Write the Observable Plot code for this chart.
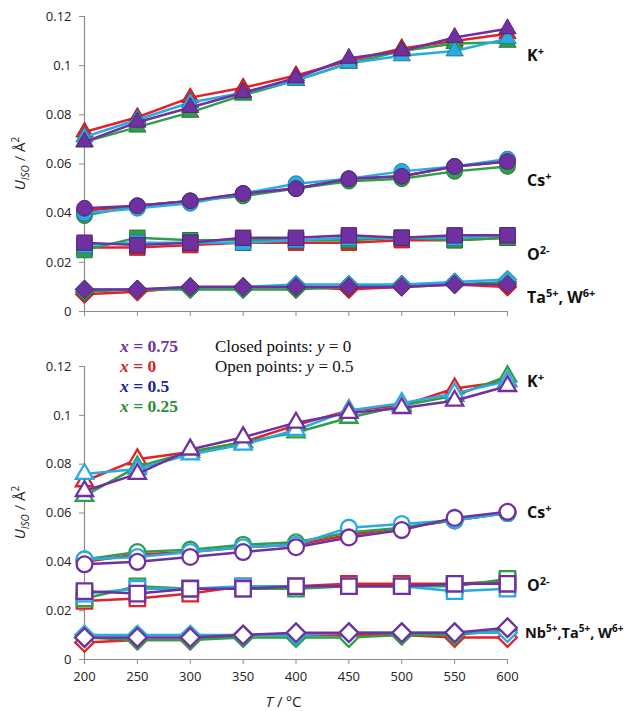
<!DOCTYPE html>
<html><head><meta charset="utf-8">
<script src="https://cdn.jsdelivr.net/npm/d3@7"></script>
<script src="https://cdn.jsdelivr.net/npm/@observablehq/plot@0.6"></script>
<style>
body{margin:0;background:#fff;}
#chart{width:636px;}
#chart svg{display:block;}
</style></head><body><div id="chart"></div>
<script>
// ---------- data ----------
const temps = [200,250,300,350,400,450,500,550,600];
const yTicks = [0,0.02,0.04,0.06,0.08,0.1,0.12];
const yTickLabels = ["0","0.02","0.04","0.06","0.08","0.1","0.12"];
// series order: x = 0, x = 0.25, x = 0.5, x = 0.75
const seriesX = ["0","0.25","0.5","0.75"];
const seriesColors = ["#E2222B","#2E9E48","#29ABE2","#7030A0"];
const legendX = ["0.75","0","0.5","0.25"];
const legendColors = ["#7030A0","#D7232B","#1C1CA6","#2E8B34"];
const ionKeys = ["K","Cs","O","M"];
const ionSymbols = ["triangle","circle","square","diamond2"];

// closed points (y = 0)
const closedK = [
  [0.073,0.079,0.087,0.091,0.096,0.102,0.107,0.110,0.113],
  [0.069,0.075,0.081,0.088,0.094,0.101,0.106,0.109,0.1095],
  [0.071,0.078,0.085,0.089,0.094,0.101,0.104,0.106,0.111],
  [0.069,0.077,0.083,0.089,0.095,0.103,0.106,0.1115,0.115]
];
const closedCs = [
  [0.041,0.043,0.045,0.048,0.050,0.054,0.055,0.059,0.061],
  [0.039,0.043,0.045,0.047,0.050,0.053,0.054,0.057,0.059],
  [0.040,0.042,0.044,0.048,0.052,0.054,0.057,0.059,0.062],
  [0.042,0.043,0.045,0.048,0.050,0.054,0.055,0.059,0.061]
];
const closedO = [
  [0.026,0.026,0.027,0.028,0.028,0.028,0.029,0.029,0.030],
  [0.025,0.030,0.029,0.029,0.029,0.029,0.030,0.029,0.030],
  [0.027,0.028,0.028,0.028,0.029,0.030,0.030,0.030,0.031],
  [0.028,0.027,0.028,0.030,0.030,0.031,0.030,0.031,0.031]
];
const closedM = [
  [0.007,0.008,0.010,0.010,0.010,0.009,0.010,0.011,0.010],
  [0.008,0.009,0.009,0.009,0.009,0.010,0.011,0.011,0.012],
  [0.009,0.009,0.010,0.010,0.011,0.011,0.011,0.012,0.013],
  [0.009,0.009,0.010,0.010,0.010,0.010,0.010,0.011,0.011]
];
// open points (y = 0.5)
const openK = [
  [0.073,0.082,0.085,0.089,0.096,0.102,0.104,0.111,0.114],
  [0.067,0.079,0.085,0.089,0.093,0.099,0.104,0.108,0.116],
  [0.076,0.078,0.084,0.088,0.094,0.102,0.105,0.109,0.114],
  [0.069,0.076,0.086,0.091,0.097,0.101,0.103,0.106,0.112]
];
const openCs = [
  [0.040,0.043,0.044,0.046,0.047,0.051,0.054,0.057,0.060],
  [0.041,0.044,0.045,0.047,0.048,0.052,0.054,0.057,0.060],
  [0.041,0.042,0.044,0.046,0.047,0.054,0.0555,0.057,0.060],
  [0.039,0.040,0.042,0.044,0.046,0.050,0.053,0.058,0.0605]
];
const openO = [
  [0.024,0.025,0.027,0.030,0.030,0.031,0.031,0.031,0.032],
  [0.025,0.030,0.029,0.029,0.029,0.030,0.030,0.030,0.033],
  [0.027,0.029,0.029,0.030,0.030,0.030,0.030,0.028,0.029],
  [0.028,0.027,0.029,0.029,0.030,0.030,0.030,0.031,0.031]
];
const openM = [
  [0.007,0.008,0.008,0.010,0.010,0.010,0.010,0.009,0.009],
  [0.009,0.008,0.008,0.009,0.009,0.009,0.010,0.010,0.012],
  [0.010,0.010,0.010,0.010,0.010,0.011,0.011,0.011,0.011],
  [0.009,0.009,0.009,0.010,0.011,0.011,0.011,0.011,0.013]
];

// ion labels: parts [text, isSuperscript]
const closedLabels = [
  [["K",0],["+",1]],
  [["Cs",0],["+",1]],
  [["O",0],["2-",1]],
  [["Ta",0],["5+",1],[", W",0],["6+",1]]
];
const closedLabelY = [0.104,0.053,0.0228,0.0053];
const openLabels = [
  [["K",0],["+",1]],
  [["Cs",0],["+",1]],
  [["O",0],["2-",1]],
  [["Nb",0],["5+",1],[",Ta",0],["5+",1],[", W",0],["6+",1]]
];
const openLabelY = [0.1135,0.060,0.0303,0.0107];

// ---------- drawing ----------
const ionR = {triangle:6.4, circle:7.9, square:8.7, diamond2:8.4};
const axisColor = "#8c8c8c";

function panel(ionData, open, showXLabels, height, marginTop, marginBottom) {
  const marks = [
    Plot.ruleX([200], {stroke: axisColor, strokeWidth: 1.2}),
    Plot.ruleY([0], {stroke: axisColor, strokeWidth: 1.2}),
    Plot.axisY({ticks: yTicks, tickFormat: d => yTickLabels[yTicks.indexOf(d)], tickSize: 5, tickPadding: 8,
      stroke: axisColor, fill: "#222", label: null}),
    Plot.axisX({ticks: temps, tickSize: 5, tickPadding: 7, stroke: axisColor, fill: "#222", label: null,
      tickFormat: showXLabels ? (d => String(d)) : (() => "")})
  ];
  seriesX.forEach((sx, s) => {
    const color = seriesColors[s];
    const rows = [];
    ionKeys.forEach((ion, i) => {
      ionData[i][s].forEach((v, k) => rows.push({T: temps[k], v, ion, sym: ionSymbols[i]}));
    });
    marks.push(Plot.line(rows, {x: "T", y: "v", z: "ion", stroke: color, strokeWidth: 2.5}));
    ionSymbols.forEach(sym => {
      const sub = rows.filter(d => d.sym === sym);
      marks.push(Plot.dot(sub, open
        ? {x: "T", y: "v", symbol: sym, r: ionR[sym], fill: "white", stroke: color, strokeWidth: 2.3}
        : {x: "T", y: "v", symbol: sym, r: ionR[sym], fill: color, stroke: d3.color(color).darker(1).formatHex(), strokeWidth: 0.9}));
    });
  });
  return Plot.plot({
    width: 636, height, marginLeft: 84, marginRight: 129, marginTop, marginBottom,
    style: {fontFamily: "'Open Sans', sans-serif", fontSize: "13px", background: "white"},
    x: {domain: [200, 600]},
    y: {domain: [0, 0.12]},
    marks
  });
}

function addIonLabels(plot, labels, ys) {
  const svg = d3.select(plot);
  const xs = plot.scale("x"), yS = plot.scale("y");
  labels.forEach((parts, i) => {
    const long = parts.length > 4;
    const t = svg.append("text")
      .attr("x", xs.apply(600) + (long ? 18 : 20)).attr("y", yS.apply(ys[i]) + 5.5)
      .attr("text-anchor", "start")
      .attr("font-family", "'Open Sans', sans-serif").attr("font-weight", "bold")
      .attr("font-size", long ? 14.5 : 16).attr("fill", "#111");
    let up = false;
    parts.forEach(([txt, sup]) => {
      const ts = t.append("tspan").text(txt);
      if (sup && !up) { ts.attr("dy", -6).attr("font-size", long ? 10 : 11); up = true; }
      else if (sup) { ts.attr("font-size", long ? 10 : 11); }
      else if (up) { ts.attr("dy", 6); up = false; }
    });
  });
}

function addYLabel(plot) {
  const yS = plot.scale("y");
  const cy = (yS.apply(0) + yS.apply(0.12)) / 2;
  const t = d3.select(plot).append("text")
    .attr("transform", `translate(25,${cy}) rotate(-90)`)
    .attr("text-anchor", "middle")
    .attr("font-family", "'Open Sans', sans-serif").attr("font-size", 15).attr("fill", "#222");
  t.append("tspan").attr("font-style", "italic").text("U");
  t.append("tspan").attr("font-style", "italic").attr("font-size", 10).attr("dy", 4).text("ISO");
  t.append("tspan").attr("dy", -4).text(" / Å");
  t.append("tspan").attr("font-size", 10).attr("dy", -6).text("2");
}

const chartEl = document.getElementById("chart");
const topPlot = panel([closedK, closedCs, closedO, closedM], false, false, 330, 16, 19);
addIonLabels(topPlot, closedLabels, closedLabelY);
addYLabel(topPlot);
chartEl.appendChild(topPlot);

const bottomPlot = panel([openK, openCs, openO, openM], true, true, 381, 36, 52);
addIonLabels(bottomPlot, openLabels, openLabelY);
addYLabel(bottomPlot);
{
  const svg = d3.select(bottomPlot);
  legendX.forEach((lx, i) => {
    const t = svg.append("text").attr("x", 120).attr("y", 22 + i * 20)
      .attr("text-anchor", "start")
      .attr("font-family", "'Liberation Serif', 'Times New Roman', serif").attr("font-size", 17.5)
      .attr("font-weight", "bold").attr("fill", legendColors[i]);
    t.append("tspan").attr("font-style", "italic").text("x");
    t.append("tspan").text(" = " + lx);
  });
  const notes = [["Closed points: ", " = 0"], ["Open points: ", " = 0.5"]];
  notes.forEach(([a, b], i) => {
    const t = svg.append("text").attr("x", 215).attr("y", 22 + i * 20)
      .attr("text-anchor", "start")
      .attr("font-family", "'Liberation Serif', 'Times New Roman', serif").attr("font-size", 17).attr("fill", "#111");
    t.append("tspan").text(a);
    t.append("tspan").attr("font-style", "italic").text("y");
    t.append("tspan").text(b);
  });
  const xs = bottomPlot.scale("x");
  const t = svg.append("text").attr("x", (xs.apply(200) + xs.apply(600)) / 2 - 12).attr("y", 377)
    .attr("text-anchor", "middle")
    .attr("font-family", "'Open Sans', sans-serif").attr("font-size", 15).attr("fill", "#222");
  t.append("tspan").attr("font-style", "italic").text("T");
  t.append("tspan").text(" / ºC");
}
chartEl.appendChild(bottomPlot);
</script></body></html>
